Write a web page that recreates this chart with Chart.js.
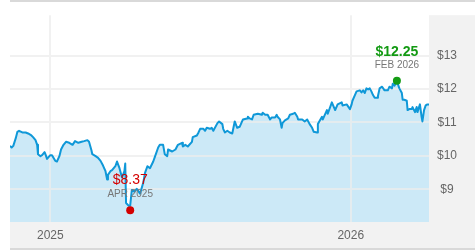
<!DOCTYPE html>
<html>
<head>
<meta charset="utf-8">
<script src="https://cdn.jsdelivr.net/npm/chart.js@4"></script>
<style>
  body { margin: 0; background: #fff; }
  canvas { display: block; }
</style>
</head>
<body>
<canvas id="myChart" width="475" height="250"></canvas>
<script>
// price history
var dates = [
  '2024-11-13','2024-11-15','2024-11-17','2024-11-20','2024-11-22','2024-11-24','2024-11-28','2024-12-02','2024-12-05','2024-12-09',
  '2024-12-11','2024-12-14','2024-12-16','2024-12-17','2024-12-20','2024-12-22','2024-12-25','2024-12-26','2024-12-28','2025-01-01',
  '2025-01-03','2025-01-07','2025-01-09','2025-01-12','2025-01-14','2025-01-17','2025-01-20','2025-01-24','2025-01-28','2025-01-31',
  '2025-02-04','2025-02-08','2025-02-11','2025-02-15','2025-02-17','2025-02-20','2025-02-21','2025-02-25','2025-02-28','2025-03-03',
  '2025-03-06','2025-03-09','2025-03-11','2025-03-12','2025-03-15','2025-03-17','2025-03-21','2025-03-23','2025-03-26','2025-03-29',
  '2025-04-01','2025-04-02','2025-04-03','2025-04-06','2025-04-08','2025-04-10','2025-04-13','2025-04-16','2025-04-20','2025-04-24',
  '2025-04-26','2025-04-29','2025-05-02','2025-05-06','2025-05-08','2025-05-12','2025-05-14','2025-05-18','2025-05-20','2025-05-23',
  '2025-05-24','2025-05-29','2025-06-02','2025-06-05','2025-06-10','2025-06-11','2025-06-14','2025-06-17','2025-06-22','2025-06-23',
  '2025-06-28','2025-06-30','2025-07-02','2025-07-06','2025-07-08','2025-07-10','2025-07-14','2025-07-16','2025-07-18','2025-07-23',
  '2025-07-25','2025-07-29','2025-07-30','2025-08-01','2025-08-04','2025-08-07','2025-08-10','2025-08-13','2025-08-16','2025-08-19',
  '2025-08-23','2025-08-28','2025-08-29','2025-08-31','2025-09-03','2025-09-05','2025-09-10','2025-09-15','2025-09-16','2025-09-19',
  '2025-09-22','2025-09-25','2025-09-27','2025-10-01','2025-10-03','2025-10-04','2025-10-07','2025-10-09','2025-10-10','2025-10-13',
  '2025-10-17','2025-10-19','2025-10-23','2025-10-25','2025-10-28','2025-10-29','2025-11-03','2025-11-06','2025-11-09','2025-11-10',
  '2025-11-12','2025-11-15','2025-11-17','2025-11-21','2025-11-22','2025-11-27','2025-11-28','2025-12-03','2025-12-04','2025-12-09',
  '2025-12-10','2025-12-13','2025-12-16','2025-12-21','2025-12-22','2025-12-27','2025-12-31','2026-01-02','2026-01-03','2026-01-06',
  '2026-01-08','2026-01-12','2026-01-14','2026-01-16','2026-01-18','2026-01-20','2026-01-22','2026-01-24','2026-01-26','2026-01-28',
  '2026-01-30','2026-02-02','2026-02-03','2026-02-05','2026-02-08','2026-02-09','2026-02-11','2026-02-15','2026-02-17','2026-02-20',
  '2026-02-21','2026-02-23','2026-02-26','2026-02-27','2026-03-01','2026-03-04','2026-03-05','2026-03-07','2026-03-10','2026-03-11',
  '2026-03-13','2026-03-16','2026-03-17','2026-03-20','2026-03-22','2026-03-23','2026-03-26','2026-03-28','2026-03-29','2026-03-31',
  '2026-04-02','2026-04-04','2026-04-06'
];
var prices = [
  10.30,10.25,10.30,10.53,10.72,10.75,10.70,10.70,10.67,10.61,
  10.56,10.47,10.33,10.05,9.99,10.02,10.11,10.05,9.91,10.02,
  10.02,9.85,9.83,9.99,10.19,10.33,10.42,10.39,10.33,10.44,
  10.39,10.42,10.44,10.47,10.42,10.16,10.05,9.99,9.94,9.85,
  9.71,9.54,9.29,9.43,9.54,9.57,9.69,9.83,9.63,9.35,
  9.54,9.77,8.59,8.51,8.51,8.98,8.93,9.01,8.87,9.21,
  9.49,9.69,9.63,9.83,9.97,10.25,10.33,10.33,10.05,9.99,
  10.19,10.13,10.19,10.33,10.39,10.28,10.33,10.28,10.42,10.56,
  10.61,10.70,10.81,10.81,10.75,10.84,10.81,10.84,10.75,10.98,
  11.03,10.95,10.81,10.70,10.75,10.70,10.67,11.03,10.84,10.87,
  11.09,11.12,11.17,11.12,11.09,11.23,11.26,11.23,11.29,11.23,
  11.23,11.09,11.15,11.15,11.23,11.17,11.09,10.84,10.98,11.06,
  11.12,11.23,11.26,11.29,11.17,11.09,11.09,11.03,11.09,11.09,
  10.95,10.84,10.72,10.70,10.95,11.17,11.09,11.37,11.26,11.60,
  11.54,11.37,11.54,11.60,11.51,11.54,11.40,11.54,11.65,11.82,
  11.93,11.96,11.90,11.96,11.88,12.02,11.99,12.02,11.93,11.82,
  11.74,11.74,11.79,12.02,12.07,12.07,11.96,11.96,12.07,12.02,
  12.16,12.10,12.22,12.16,12.02,11.88,11.68,11.68,11.65,11.37,
  11.40,11.40,11.46,11.31,11.46,11.31,11.54,11.17,11.03,11.37,
  11.51,11.54,11.54
];

// low / high markers
var lowDate = '2025-04-08', lowValue = 8.37, lowLabel = 'APR 2025';
var highDate = '2026-02-26', highValue = 12.25, highLabel = 'FEB 2026';

// axis ticks
var yearTicks = ['2025-01-01', '2026-01-01'];
var yearLabels = ['2025', '2026'];
var priceTicks = [9, 10, 11, 12, 13, 14];
var priceMin = 8.02, priceMax = 14.21;

var base = Date.parse('2025-01-01');
function toDay(d) { return (Date.parse(d) - base) / 86400000; }

var points = dates.map(function(d, i) { return {x: toDay(d), y: prices[i]}; });
var font = '"Liberation Sans", Arial, sans-serif';

// grey bands and borders behind the chart
var frame = {
  id: 'frame',
  beforeDraw: function(chart) {
    var ctx = chart.ctx, a = chart.chartArea;
    ctx.save();
    ctx.fillStyle = '#fff';
    ctx.fillRect(0, 0, chart.width, chart.height);
    ctx.fillStyle = '#f2f2f2';
    ctx.fillRect(a.left, a.bottom, chart.width - a.left, chart.height - 2 - a.bottom);
    ctx.fillRect(a.right, a.top, chart.width - a.right, a.bottom - a.top);
    ctx.fillStyle = '#d9d9d9';
    ctx.fillRect(a.left, 0, chart.width - a.left, 2);
    ctx.fillRect(a.left, chart.height - 2, chart.width - a.left, 2);
    ctx.restore();
  }
};

// gridlines on top of the fill, below the line
var gridOver = {
  id: 'gridOver',
  afterDatasetDraw: function(chart, args) {
    if (args.index !== 0) return;
    var ctx = chart.ctx, a = chart.chartArea, sx = chart.scales.x, sy = chart.scales.y;
    ctx.save();
    ctx.strokeStyle = 'rgba(236,236,236,0.75)';
    ctx.lineWidth = 2;
    ctx.beginPath();
    sy.ticks.forEach(function(t) {
      var py = Math.round(sy.getPixelForValue(t.value));
      ctx.moveTo(a.left, py); ctx.lineTo(a.right, py);
    });
    sx.ticks.forEach(function(t) {
      var px = Math.round(sx.getPixelForValue(t.value));
      ctx.moveTo(px, a.top); ctx.lineTo(px, a.bottom);
    });
    ctx.stroke();
    ctx.restore();
  }
};

// value labels above the low / high dots
var markLabels = {
  id: 'markLabels',
  afterDatasetsDraw: function(chart) {
    var ctx = chart.ctx, sx = chart.scales.x, sy = chart.scales.y;
    ctx.save();
    ctx.textAlign = 'center';
    ctx.textBaseline = 'middle';

    var hx = sx.getPixelForValue(toDay(highDate)), hy = sy.getPixelForValue(highValue);
    ctx.font = 'bold 14px ' + font;
    ctx.fillStyle = '#139a13';
    ctx.fillText('$' + highValue.toFixed(2), hx, hy - 29);
    ctx.font = '10px ' + font;
    ctx.fillStyle = '#777';
    ctx.fillText(highLabel, hx, hy - 15);

    var lx = sx.getPixelForValue(toDay(lowDate)), ly = sy.getPixelForValue(lowValue);
    ctx.font = '14px ' + font;
    ctx.fillStyle = '#d40000';
    ctx.fillText('$' + lowValue.toFixed(2), lx, ly - 30);
    ctx.font = '10px ' + font;
    ctx.fillStyle = '#777';
    ctx.fillText(lowLabel, lx, ly - 16);
    ctx.restore();
  }
};

var ctx = document.getElementById('myChart').getContext('2d');
var chart = new Chart(ctx, {
  type: 'line',
  data: {
    datasets: [{
      // fill only
      data: points,
      borderWidth: 0,
      borderColor: 'transparent',
      backgroundColor: '#cce9f7',
      fill: 'start',
      pointRadius: 0,
      order: 3
    }, {
      // the price line
      data: points,
      borderColor: '#0f98d8',
      borderWidth: 2,
      borderJoinStyle: 'round',
      fill: false,
      pointRadius: 0,
      order: 2
    }, {
      data: [{x: toDay(lowDate), y: lowValue}],
      showLine: false,
      pointRadius: 4,
      pointBorderWidth: 0,
      pointBackgroundColor: '#d40000',
      order: 1
    }, {
      data: [{x: toDay(highDate), y: highValue}],
      showLine: false,
      pointRadius: 4,
      pointBorderWidth: 0,
      pointBackgroundColor: '#149c14',
      order: 1
    }]
  },
  options: {
    responsive: false,
    animation: false,
    devicePixelRatio: 1,
    layout: { padding: { left: 10, top: 2, right: 0, bottom: 2 } },
    plugins: { legend: { display: false }, tooltip: { enabled: false } },
    scales: {
      x: {
        type: 'linear',
        min: toDay(dates[0]),
        max: toDay(dates[dates.length - 1]),
        grid: { display: false, drawTicks: false },
        border: { display: false },
        afterBuildTicks: function(scale) {
          scale.ticks = yearTicks.map(function(d) { return {value: toDay(d)}; });
        },
        afterFit: function(scale) { scale.height = 26; },
        ticks: {
          padding: 6,
          maxRotation: 0,
          color: '#666',
          font: { family: font, size: 12 },
          callback: function(v) {
            var i = yearTicks.map(toDay).indexOf(v);
            return i >= 0 ? yearLabels[i] : null;
          }
        }
      },
      y: {
        position: 'right',
        min: priceMin,
        max: priceMax,
        grid: { display: false, drawTicks: false },
        border: { display: false },
        afterBuildTicks: function(scale) {
          scale.ticks = priceTicks.map(function(v) { return {value: v}; });
        },
        afterFit: function(scale) { scale.width = 46; },
        ticks: {
          padding: 8,
          crossAlign: 'center',
          color: '#666',
          font: { family: font, size: 12 },
          callback: function(v) { return v === 14 ? null : '$' + v; }
        }
      }
    }
  },
  plugins: [frame, gridOver, markLabels]
});
</script>
</body>
</html>
